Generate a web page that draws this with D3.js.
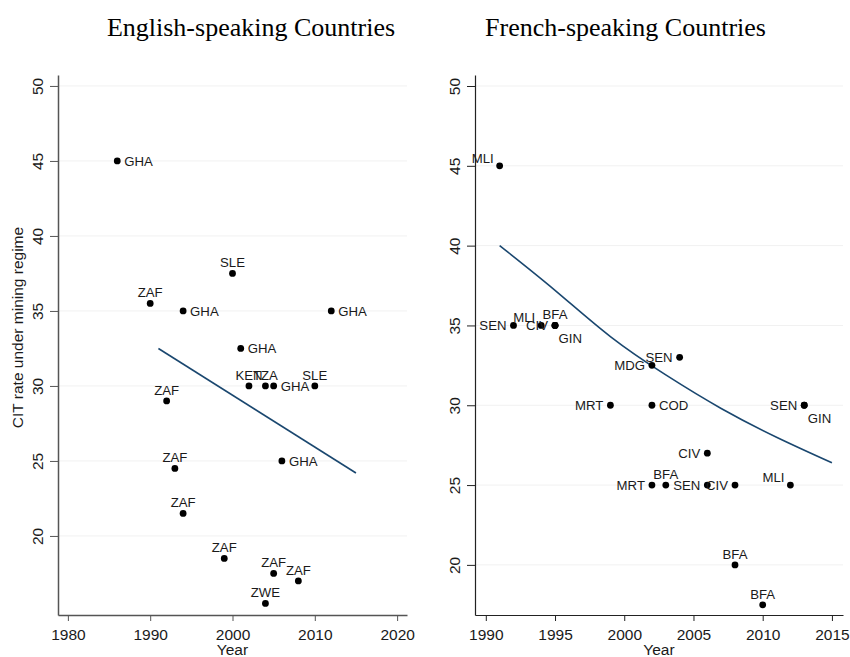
<!DOCTYPE html>
<html>
<head>
<meta charset="utf-8">
<script src="https://cdn.jsdelivr.net/npm/d3@7"></script>
<style>
  html, body { margin: 0; padding: 0; background: #ffffff; }
  svg { display: block; }
</style>
</head>
<body>
<svg id="chart" width="850" height="657"></svg>
<script>
// ---------------- DATA ----------------
const panelTitles = ["English-speaking Countries", "French-speaking Countries"];
const yAxisTitle = "CIT rate under mining regime";
const xAxisTitle = "Year";

const yTicks = [20, 25, 30, 35, 40, 45, 50];
const engXTicks = [1980, 1990, 2000, 2010, 2020];
const freXTicks = [1990, 1995, 2000, 2005, 2010, 2015];

// English-speaking countries
const engCodes  = ["GHA","ZAF","GHA","SLE","GHA","GHA","KEN","TZA","GHA","SLE","ZAF","ZAF","ZAF","GHA","ZAF","ZAF","ZAF","ZWE"];
const engYears  = [1986, 1990, 1994, 2000, 2012, 2001, 2002, 2004, 2005, 2010, 1992, 1993, 1994, 2006, 1999, 2005, 2008, 2004];
const engValues = [45,   35.5, 35,   37.5, 35,   32.5, 30,   30,   30,   30,   29,   24.5, 21.5, 25,   18.5, 17.5, 17,   15.5];
const engLabelPos = [3, 12, 3, 12, 3, 3, 12, 12, 3, 12, 12, 12, 12, 3, 12, 12, 12, 12]; // clock positions

// fitted line (English)
const engFitYears  = [1991, 2015];
const engFitValues = [32.5, 24.2];

// French-speaking countries
const freCodes  = ["MLI","SEN","MLI","CIV","BFA","GIN","SEN","MDG","MRT","COD","SEN","GIN","CIV","MRT","BFA","SEN","CIV","MLI","BFA","BFA"];
const freYears  = [1991, 1992, 1994, 1995, 1995, 1995, 2004, 2002, 1999, 2002, 2013, 2013, 2006, 2002, 2003, 2006, 2008, 2012, 2008, 2010];
const freValues = [45,   35,   35,   35,   35,   35,   33,   32.5, 30,   30,   30,   30,   27,   25,   25,   25,   25,   25,   20,   17.5];
const freLabelPos = [10, 9, 10, 9, 12, 4, 9, 9, 9, 3, 9, 4, 9, 9, 12, 9, 9, 10, 12, 12];

// fitted curve (French)
const freFitYears  = [1991, 1995, 1999, 2003, 2007, 2011, 2015];
const freFitValues = [40.0, 37.2, 34.3, 31.9, 29.8, 28.0, 26.4];

// ---------------- DRAW ----------------
const svg = d3.select("#chart");
const sans = "'Liberation Sans', Arial, Helvetica, sans-serif";
const serif = "'Liberation Serif', 'Times New Roman', serif";
const fitColor = "#1a476f";

const panels = [
  {
    title: panelTitles[0], titleX: 251,
    codes: engCodes, years: engYears, values: engValues, pos: engLabelPos,
    fitX: engFitYears, fitY: engFitValues, curved: false,
    xTicks: engXTicks,
    x: d3.scaleLinear().domain([1978.8, 2021.2]).range([58, 407]),
    y: d3.scaleLinear().domain([14.73, 50.73]).range([615, 75]),
    axisColor: "#555", axisWidth: 1.5, yTitle: true
  },
  {
    title: panelTitles[1], titleX: 625.5,
    codes: freCodes, years: freYears, values: freValues, pos: freLabelPos,
    fitX: freFitYears, fitY: freFitValues, curved: true,
    xTicks: freXTicks,
    x: d3.scaleLinear().domain([1989.22, 2015.8]).range([475, 843]),
    y: d3.scaleLinear().domain([16.86, 50.69]).range([615, 75]),
    axisColor: "#222", axisWidth: 1.2, yTitle: false
  }
];

panels.forEach(p => {
  const g = svg.append("g");
  const [x0, x1] = p.x.range();
  const [yb, yt] = p.y.range();

  // title
  svg.append("text")
    .attr("x", p.titleX).attr("y", 36)
    .attr("text-anchor", "middle")
    .attr("font-family", serif).attr("font-size", 26)
    .attr("fill", "#000")
    .text(p.title);

  // gridlines
  g.append("g").selectAll("line").data(yTicks).join("line")
    .attr("x1", x0).attr("x2", x1)
    .attr("y1", d => p.y(d)).attr("y2", d => p.y(d))
    .attr("stroke", "#f1f1f1").attr("stroke-width", 1);

  // x axis
  const xAxis = g.append("g")
    .attr("transform", `translate(0,${yb})`)
    .call(d3.axisBottom(p.x).tickValues(p.xTicks).tickFormat(d3.format("d")).tickSize(6).tickSizeOuter(0));
  xAxis.select(".domain").attr("stroke", p.axisColor).attr("stroke-width", p.axisWidth);
  xAxis.selectAll(".tick line").attr("stroke", p.axisColor).attr("stroke-width", 1);
  xAxis.selectAll(".tick text")
    .attr("y", 24.5).attr("dy", 0)
    .attr("font-family", sans).attr("font-size", 15.5).attr("fill", "#1a1a1a");

  // y axis
  const yAxis = g.append("g")
    .attr("transform", `translate(${x0},0)`)
    .call(d3.axisLeft(p.y).tickValues(yTicks).tickSize(8).tickSizeOuter(0));
  yAxis.select(".domain").attr("stroke", p.axisColor).attr("stroke-width", p.axisWidth);
  yAxis.selectAll(".tick line").attr("stroke", p.axisColor).attr("stroke-width", 1);
  yAxis.selectAll(".tick text")
    .attr("x", 0).attr("y", 0).attr("dy", 0)
    .attr("transform", "translate(-15,0) rotate(-90)")
    .attr("text-anchor", "middle")
    .attr("font-family", sans).attr("font-size", 15.5).attr("fill", "#1a1a1a");

  // axis titles
  g.append("text")
    .attr("x", (x0 + x1) / 2).attr("y", 655)
    .attr("text-anchor", "middle")
    .attr("font-family", sans).attr("font-size", 15.5).attr("fill", "#1a1a1a")
    .text(xAxisTitle);
  if (p.yTitle) {
    g.append("text")
      .attr("transform", `translate(23,327.5) rotate(-90)`)
      .attr("text-anchor", "middle")
      .attr("font-family", sans).attr("font-size", 15.5).attr("fill", "#1a1a1a")
      .text(yAxisTitle);
  }

  // fit line
  const fitData = p.fitX.map((d, i) => [d, p.fitY[i]]);
  const line = d3.line().x(d => p.x(d[0])).y(d => p.y(d[1]))
    .curve(p.curved ? d3.curveNatural : d3.curveLinear);
  g.append("path").datum(fitData)
    .attr("d", line)
    .attr("fill", "none").attr("stroke", fitColor).attr("stroke-width", 1.6);

  // points
  const pts = p.years.map((d, i) => ({ year: d, value: p.values[i], code: p.codes[i], pos: p.pos[i] }));
  g.append("g").selectAll("circle").data(pts).join("circle")
    .attr("cx", d => p.x(d.year)).attr("cy", d => p.y(d.value))
    .attr("r", 3.4).attr("fill", "#000");

  // labels
  const off = {
    3:  { dx: 7,   dy: 5,   anchor: "start" },
    9:  { dx: -7,  dy: 5,   anchor: "end" },
    12: { dx: 0,   dy: -6,  anchor: "middle" },
    10: { dx: -6,  dy: -3,  anchor: "end" },
    4:  { dx: 3.5, dy: 18,  anchor: "start" }
  };
  g.append("g").selectAll("text").data(pts).join("text")
    .attr("x", d => p.x(d.year) + off[d.pos].dx)
    .attr("y", d => p.y(d.value) + off[d.pos].dy)
    .attr("text-anchor", d => off[d.pos].anchor)
    .attr("font-family", sans).attr("font-size", 13.2).attr("fill", "#1a1a1a")
    .text(d => d.code);
});
</script>
</body>
</html>
